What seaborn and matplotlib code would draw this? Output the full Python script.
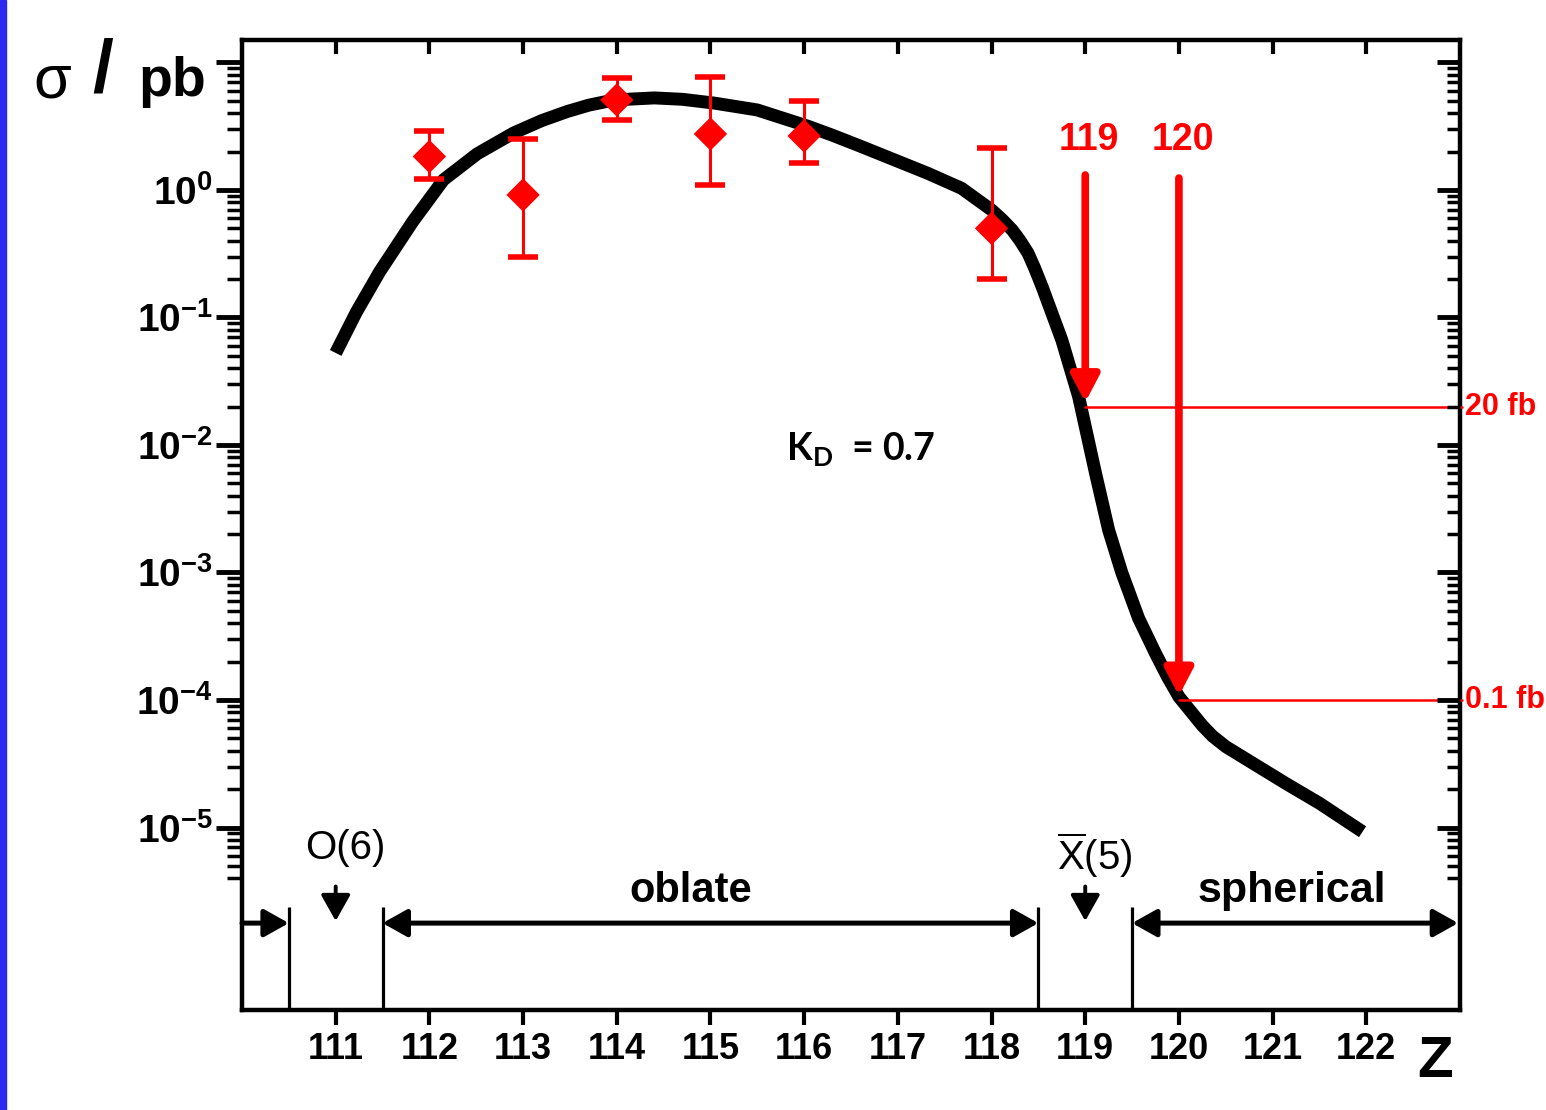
import numpy as np
import pandas as pd
import matplotlib
matplotlib.use("Agg")
import matplotlib.pyplot as plt
import seaborn as sns
from matplotlib import font_manager
from matplotlib.ticker import FixedLocator, FixedFormatter, NullFormatter
from matplotlib.patches import Rectangle

# ---------------- data ----------------
curve_z = [111.0, 111.22, 111.47, 111.82, 112.15, 112.51, 112.90, 113.2, 113.47, 113.7,
           113.97, 114.40, 114.7, 115.04, 115.5, 116.04, 116.3, 116.61, 117.32, 117.68,
           118.00, 118.11, 118.22, 118.30, 118.39, 118.46, 118.54, 118.75, 118.93, 119.11,
           119.25, 119.39, 119.57, 119.75, 119.88, 120.0, 120.25, 120.36, 120.50, 120.79,
           121.14, 121.50, 121.96]
curve_sigma = [0.0527, 0.110, 0.229, 0.562, 1.20, 1.92, 2.80, 3.50, 4.12, 4.62,
               5.08, 5.27, 5.14, 4.80, 4.24, 3.16, 2.69, 2.19, 1.35, 1.03,
               0.697, 0.589, 0.486, 0.405, 0.319, 0.244, 0.174, 0.0666, 0.0239, 0.0060,
               0.00215, 1.0e-3, 4.37e-4, 2.32e-4, 1.51e-4, 1.06e-4, 6.3e-5, 5.2e-5, 4.31e-5, 3.19e-5,
               2.22e-5, 1.55e-5, 9.27e-6]

exp_z = [112, 113, 114, 115, 116, 118]
exp_sigma = [1.83, 0.914, 5.08, 2.75, 2.65, 0.50]
exp_hi = [2.92, 2.52, 7.52, 7.66, 5.02, 2.12]
exp_lo = [1.21, 0.30, 3.54, 1.09, 1.62, 0.20]

x_ticks = [111, 112, 113, 114, 115, 116, 117, 118, 119, 120, 121, 122]
x_tick_labels = ["111", "112", "113", "114", "115", "116", "117", "118", "119", "120", "121", "122"]
y_exponents = [-5, -4, -3, -2, -1, 0, 1]
y_tick_labels = [r"$\mathdefault{10^{-5}}$", r"$\mathdefault{10^{-4}}$", r"$\mathdefault{10^{-3}}$",
                 r"$\mathdefault{10^{-2}}$", r"$\mathdefault{10^{-1}}$", r"$\mathdefault{10^{0}}$", ""]

limit_labels = ["119", "120"]
limit_z = [119, 120]
limit_sigma = [0.02, 1e-4]          # pb  (20 fb, 0.1 fb)
limit_texts = ["20 fb", "0.1 fb"]

shape_bounds = [110.5, 111.5, 118.5, 119.5]
shape_names = ["oblate", "spherical"]
shape_points_z = [111, 119]
shape_points_labels = ["O(6)", r"$\overline{\mathdefault{X}}$(5)"]

# ---------------- fonts ----------------
def has_font(name):
    try:
        font_manager.findfont(font_manager.FontProperties(family=name), fallback_to_default=False)
        return True
    except Exception:
        return False

sns.set_style("ticks")
narrow = "Liberation Sans Narrow" if has_font("Liberation Sans Narrow") else "Liberation Sans"
plt.rcParams["font.family"] = ["Liberation Sans", "DejaVu Sans"]
plt.rcParams["text.color"] = "black"
plt.rcParams["axes.labelcolor"] = "black"
plt.rcParams["xtick.color"] = "black"
plt.rcParams["ytick.color"] = "black"
plt.rcParams["axes.edgecolor"] = "black"
kd_font = "Lato" if has_font("Lato") else "Liberation Sans"

RED = "#ff0000"

fig = plt.figure(figsize=(15.46, 11.10), dpi=100)
fig.patches.append(Rectangle((0, 0), 6 / 1546, 1, transform=fig.transFigure,
                             color="#2a2af0", zorder=-5))
ax = fig.add_axes([242 / 1546, 1 - 1010 / 1110, (1460 - 242) / 1546, (1010 - 40) / 1110])

ylo, yhi = 10 ** -6.431, 10 ** 1.176
xlo, xhi = 110.0, 123.0

# curve
sns.lineplot(x=curve_z, y=curve_sigma, ax=ax, color="black", lw=9.3, sort=False,
             solid_capstyle="butt", solid_joinstyle="round", zorder=2)
ax.set_yscale("log")

# data points
err_lo = np.array(exp_sigma) - np.array(exp_lo)
err_hi = np.array(exp_hi) - np.array(exp_sigma)
ax.errorbar(exp_z, exp_sigma, yerr=[err_lo, err_hi], fmt="none", ecolor=RED,
            elinewidth=2.2, capsize=11, capthick=4, zorder=4)
sns.scatterplot(x=exp_z, y=exp_sigma, marker="D", s=17 ** 2, color=RED,
                edgecolor="none", zorder=5, ax=ax)

ax.set_xlim(xlo, xhi)
ax.set_ylim(ylo, yhi)

# ---------------- axes styling ----------------
for s in ax.spines.values():
    s.set_linewidth(3.2)
    s.set_color("black")
    s.set_visible(True)

minor_pos = [m * 10.0 ** e for e in range(-6, 1) for m in range(2, 10) if m * 10.0 ** e >= 3.9e-6]
major_pos = [10.0 ** e for e in y_exponents]

ax.xaxis.set_major_locator(FixedLocator(x_ticks))
ax.xaxis.set_major_formatter(FixedFormatter(x_tick_labels))
ax.xaxis.set_minor_locator(FixedLocator([]))
ax.yaxis.set_major_locator(FixedLocator(major_pos))
ax.yaxis.set_major_formatter(FixedFormatter(y_tick_labels))
ax.yaxis.set_minor_locator(FixedLocator(minor_pos))
ax.yaxis.set_minor_formatter(NullFormatter())

ax.tick_params(axis="x", which="major", direction="out", length=11, width=3,
               pad=5, top=False, bottom=True, colors="black")
ax.tick_params(axis="y", which="major", direction="out", length=19, width=3.5,
               pad=2, left=True, right=False, colors="black")
ax.tick_params(axis="y", which="minor", direction="out", length=11, width=2.5,
               left=True, right=False, colors="black")
for lab in ax.get_xticklabels():
    lab.set_fontfamily([narrow, "DejaVu Sans"])
    lab.set_fontweight("bold")
    lab.set_fontsize(26)
for lab in ax.get_yticklabels():
    lab.set_fontfamily([narrow, "DejaVu Sans"])
    lab.set_fontweight("bold")
    lab.set_fontsize(28)

# right axis (inward ticks)
axr = ax.twinx()
axr.set_yscale("log")
axr.set_ylim(ylo, yhi)
axr.yaxis.set_major_locator(FixedLocator(major_pos))
axr.yaxis.set_minor_locator(FixedLocator(minor_pos))
axr.yaxis.set_major_formatter(NullFormatter())
axr.yaxis.set_minor_formatter(NullFormatter())
axr.tick_params(axis="y", which="major", direction="in", length=16.5, width=3.5, right=True, left=False, colors="black")
axr.tick_params(axis="y", which="minor", direction="in", length=9.5, width=2.5, right=True, left=False, colors="black")
for s in axr.spines.values():
    s.set_visible(False)

# top axis (inward ticks)
axt = ax.twiny()
axt.set_xlim(xlo, xhi)
axt.xaxis.set_major_locator(FixedLocator(x_ticks))
axt.xaxis.set_major_formatter(NullFormatter())
axt.tick_params(axis="x", which="major", direction="in", length=10, width=3, top=True, bottom=False, colors="black")
for s in axt.spines.values():
    s.set_visible(False)

# ---------------- labels ----------------
fig.text(33 / 1546, 1 - 82 / 1110, "σ", fontsize=44, va="center", ha="left", color="black",
         family=["Liberation Sans", "DejaVu Sans"])
fig.text(92 / 1546, 1 - 72 / 1110, "/", fontsize=54, fontweight="bold", va="center", ha="left", color="black")
fig.text(138 / 1546, 1 - 82 / 1110, "pb", fontsize=40, fontweight="bold", va="center", ha="left", color="black")
fig.text(1435 / 1546, 1 - 1062 / 1110, "Z", fontsize=42, fontweight="bold", va="center", ha="center", color="black")

ax.text(115.81, 0.0091, r"K$_{\mathdefault{D}}$  = 0.7", fontsize=27, fontweight="bold",
        family=[kd_font, "DejaVu Sans"], ha="left", va="center", color="black")

# ---------------- limits (red) ----------------
arrow_top = [1.31, 1.24]
for lz, ls, lab, txt, top in zip(limit_z, limit_sigma, limit_labels, limit_texts, arrow_top):
    ax.text(lz + 0.04, 2.45, lab, color=RED, fontsize=27, fontweight="bold", ha="center", va="center")
    ax.annotate("", xy=(lz, ls * 1.08), xytext=(lz, top),
                arrowprops=dict(arrowstyle="-|>,head_length=0.8,head_width=0.42", color=RED,
                                lw=5.5, mutation_scale=20, shrinkA=0, shrinkB=0), zorder=6)
    ax.plot([lz, xhi + 0.02], [ls, ls], color=RED, lw=1.8, clip_on=False, zorder=6)
    ax.text(xhi + 0.05, ls, txt, color=RED, fontsize=22, fontweight="bold",
            ha="left", va="center", transform=ax.transData, clip_on=False)

# ---------------- shape regions ----------------
line_top = 2.38e-6
arrow_y = 1.78e-6
for b in shape_bounds:
    ax.plot([b, b], [ylo, line_top], color="black", lw=2.3, solid_capstyle="butt", zorder=3)

ap_single = dict(arrowstyle="-|>,head_length=0.75,head_width=0.42", color="black", lw=3.6,
                 mutation_scale=20, shrinkA=0, shrinkB=0)
ap_double = dict(arrowstyle="<|-|>,head_length=0.75,head_width=0.42", color="black", lw=3.6,
                 mutation_scale=20, shrinkA=0, shrinkB=0)
ax.annotate("", xy=(shape_bounds[0], arrow_y), xytext=(xlo, arrow_y), arrowprops=ap_single)
ax.annotate("", xy=(shape_bounds[2], arrow_y), xytext=(shape_bounds[1], arrow_y), arrowprops=ap_double)
ax.annotate("", xy=(xhi - 0.02, arrow_y), xytext=(shape_bounds[3], arrow_y), arrowprops=ap_double)

ax.text(114.79, 3.15e-6, shape_names[0], fontsize=30, fontweight="bold", ha="center", va="center",
        color="black")
ax.text(121.2, 3.2e-6, shape_names[1], fontsize=31, fontweight="bold", ha="center", va="center",
        color="black")

ap_down = dict(arrowstyle="-|>,head_length=0.8,head_width=0.45", color="black", lw=2.8,
               mutation_scale=20, shrinkA=0, shrinkB=0)
label_y = [6.9e-6, 6.1e-6]
for pz, plab, ly in zip(shape_points_z, shape_points_labels, label_y):
    ax.annotate("", xy=(pz, 1.85e-6), xytext=(pz, 3.45e-6), arrowprops=ap_down)
    ax.text(pz + 0.1, ly, plab, fontsize=29, ha="center", va="center", color="black")

fig.savefig("out.png", dpi=100)
